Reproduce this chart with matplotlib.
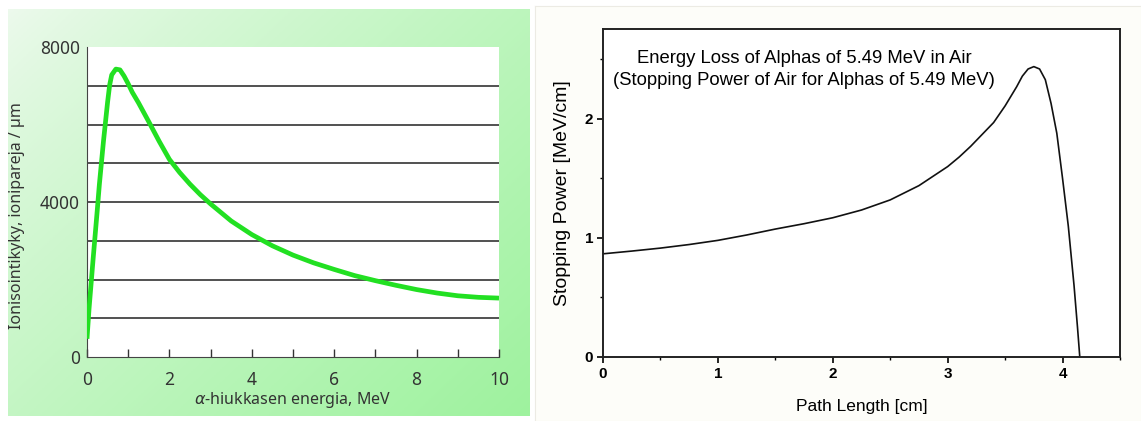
import numpy as np
import matplotlib
matplotlib.use('Agg')
import matplotlib.pyplot as plt
from matplotlib.ticker import MultipleLocator

# left chart: ionisation vs alpha energy
energy = [0, 0.05, 0.15, 0.25, 0.3, 0.4, 0.5, 0.55, 0.6, 0.7, 0.8, 0.9, 1.0,
          1.1, 1.25, 1.5, 1.75, 2.0, 2.25, 2.5, 2.75, 3.0, 3.5, 4.0, 4.5, 5.0,
          5.5, 6.0, 6.5, 7.0, 7.5, 8.0, 8.5, 9.0, 9.5, 10.0]
ion_pairs = [470, 1250, 2550, 3800, 4450, 5570, 6580, 7020, 7280, 7430, 7410,
             7250, 7050, 6830, 6560, 6070, 5570, 5100, 4760, 4460, 4190, 3950,
             3510, 3160, 2870, 2630, 2430, 2260, 2100, 1970, 1850, 1740, 1650,
             1580, 1540, 1520]
left_yticks = [0, 4000, 8000]
left_xticks = [0, 2, 4, 6, 8, 10]

# right chart: stopping power vs path length
path = [0, 0.25, 0.5, 0.75, 1.0, 1.25, 1.5, 1.75, 2.0, 2.25, 2.5, 2.75, 3.0,
        3.1, 3.2, 3.3, 3.4, 3.5, 3.6, 3.65, 3.7, 3.75, 3.8, 3.85, 3.9, 3.95,
        4.0, 4.05, 4.1, 4.13, 4.15]
stopping = [0.867, 0.89, 0.915, 0.945, 0.98, 1.025, 1.075, 1.12, 1.17, 1.235,
            1.32, 1.44, 1.60, 1.68, 1.77, 1.87, 1.97, 2.11, 2.27, 2.36, 2.42,
            2.44, 2.42, 2.33, 2.13, 1.88, 1.50, 1.10, 0.60, 0.25, 0.0]

fig = plt.figure(figsize=(11.41, 4.21), dpi=100)
fig.patch.set_facecolor('white')

# green gradient panel behind left chart
W, H = 1141, 421
bg = fig.add_axes([8 / W, 1 - 416 / H, 522 / W, 407 / H], zorder=0)
gx, gy = np.meshgrid(np.linspace(0, 1, 200), np.linspace(0, 1, 200))
t = np.clip(0.55 * gx + 0.45 * gy, 0, 1) ** 0.8
c0 = np.array([0.93, 0.98, 0.93])
c1 = np.array([0.62, 0.95, 0.62])
img = c0[None, None, :] * (1 - t[..., None]) + c1[None, None, :] * t[..., None]
bg.imshow(img, aspect='auto', origin='upper', extent=[0, 1, 0, 1])
bg.axis('off')

# cream panel behind right chart
bg2 = fig.add_axes([535 / W, 0, 606 / W, 1 - 6 / H], zorder=0)
bg2.set_facecolor('#fdfdf9')
for s in bg2.spines.values():
    s.set_color('#ecebe4')
bg2.set_xticks([])
bg2.set_yticks([])

lfont = 'Noto Sans'
ax1 = fig.add_axes([87 / W, 1 - 357 / H, 412 / W, 310 / H], zorder=2)
ax1.set_facecolor('white')
for y in range(1000, 8000, 1000):
    ax1.axhline(y, color='#222222', lw=1.1, zorder=1)
ax1.plot(energy, ion_pairs, color='#22e022', lw=3.4, zorder=3,
         solid_capstyle='butt', solid_joinstyle='round')
ax1.set_xlim(0, 10)
ax1.set_ylim(0, 8000)
ax1.spines['top'].set_visible(False)
ax1.spines['right'].set_visible(False)
ax1.spines['left'].set_color('#444444')
ax1.spines['bottom'].set_color('#444444')
ax1.set_xticks(left_xticks)
ax1.xaxis.set_minor_locator(MultipleLocator(1))
ax1.tick_params(axis='x', which='both', direction='in', length=6, width=1,
                color='#333333', pad=10)
ax1.set_yticks(left_yticks)
ax1.tick_params(axis='y', length=0, pad=5)
for lab in ax1.get_xticklabels() + ax1.get_yticklabels():
    lab.set_fontfamily(lfont)
    lab.set_fontsize(12.5)
    lab.set_color('#333333')
ax1.set_xlabel(r'$\alpha$-hiukkasen energia, MeV', fontsize=11.5,
               family=lfont, color='#333333', labelpad=1)
ax1.set_ylabel('Ionisointikyky, ionipareja / µm', fontsize=11.5,
               family=lfont, color='#333333')
ax1.yaxis.set_label_coords(-0.15, 0.455)

rfont = 'Liberation Sans'
ax2 = fig.add_axes([603 / W, 1 - 357 / H, 517 / W, 328 / H], zorder=2)
ax2.set_facecolor('white')
ax2.plot(path, stopping, color='#111111', lw=1.2)
ax2.set_xlim(0, 4.5)
ax2.set_ylim(0, 2.756)
for s in ax2.spines.values():
    s.set_linewidth(1.4)
    s.set_color('#222222')
ax2.set_xticks([0, 1, 2, 3, 4])
ax2.set_yticks([0, 1, 2])
ax2.xaxis.set_minor_locator(MultipleLocator(0.5))
ax2.yaxis.set_minor_locator(MultipleLocator(0.5))
ax2.tick_params(which='major', direction='out', length=4, width=1.2, pad=3)
ax2.tick_params(which='minor', direction='out', length=2.5, width=1)
for lab in ax2.get_xticklabels() + ax2.get_yticklabels():
    lab.set_fontfamily(rfont)
    lab.set_fontweight('bold')
    lab.set_fontsize(11)
ax2.set_xlabel('Path Length [cm]', fontsize=12.5, family=rfont, labelpad=13)
ax2.set_ylabel('Stopping Power [MeV/cm]', fontsize=14, family=rfont,
               labelpad=10)
ax2.text(1.75, 2.51, 'Energy Loss of Alphas of 5.49 MeV in Air', ha='center',
         va='center', fontsize=13.3, family=rfont)
ax2.text(1.75, 2.32, '(Stopping Power of Air for Alphas of 5.49 MeV)',
         ha='center', va='center', fontsize=13.3, family=rfont)

fig.savefig('out.png', dpi=100)
